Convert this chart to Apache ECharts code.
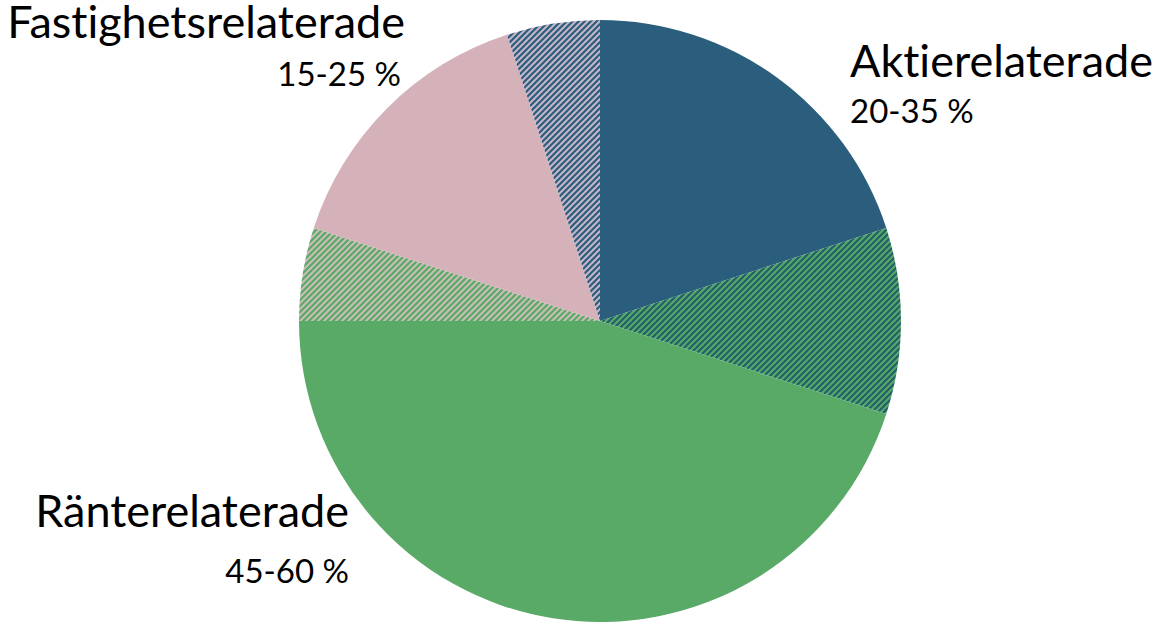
<!DOCTYPE html>
<html>
<head>
<meta charset="utf-8">
<script src="https://cdn.jsdelivr.net/npm/echarts@6/dist/echarts.min.js"></script>
<style>
	html, body { margin: 0; padding: 0; background: #fff; }
	#chart { width: 1153px; height: 625px; }
	#chart text { font-variant-ligatures: none; }
</style>
</head>
<body>
<div id="chart"></div>
<script>
	// data
	var sliceNames = ['Aktierelaterade', 'Aktier (spann)', 'Ränterelaterade', 'Ränte (spann)', 'Fastighetsrelaterade', 'Fastighet (spann)'];
	var sliceValues = [20, 10, 45, 5, 15, 5];
	var labelNames = ['Aktierelaterade', 'Fastighetsrelaterade', 'Ränterelaterade'];
	var labelRanges = ['20-35 %', '15-25 %', '45-60 %'];

	/**
	 * diagonal stripe tile
	 */
	var stripes = function(bg, fg){
		var s = 6, c = document.createElement('canvas');
		c.width = s; c.height = s;
		var ctx = c.getContext('2d');
		ctx.fillStyle = bg;
		ctx.fillRect(0, 0, s, s);
		ctx.strokeStyle = fg;
		ctx.lineWidth = 2.2;
		ctx.beginPath();
		ctx.moveTo(-1, s + 1); ctx.lineTo(s + 1, -1);
		ctx.moveTo(-1, 1); ctx.lineTo(1, -1);
		ctx.moveTo(s - 1, s + 1); ctx.lineTo(s + 1, s - 1);
		ctx.stroke();
		return { image: c, repeat: 'repeat' };
	};

	var fills = [
		'#2a5e7c',
		stripes('#5aaa67', '#22606c'),
		'#5aaa67',
		stripes('#cbbdb7', '#5aaa67'),
		'#d5b1ba',
		stripes('#c6b5c8', '#2a5e7c')
	];

	var pieData = [];
	for(var i = 0, j = sliceValues.length; i < j; i++){
		pieData.push({ name: sliceNames[i], value: sliceValues[i], itemStyle: { color: fills[i] } });
	}

	var font = 'Lato, "Open Sans", sans-serif';
	var bigStyle = { fontSize: 45, fontFamily: font, fill: '#000' };
	var smallStyle = { fontSize: 33, fontFamily: font, fill: '#000' };

	function ext(a, b){ for(var k in b){ a[k] = b[k]; } return a; }
	var txt = function(text, x, y, style, align){
		return {
			type: 'text', x: x, y: y,
			style: ext({ text: text, textAlign: align, textVerticalAlign: 'bottom' }, style)
		};
	};

	var myChart = echarts.init(document.getElementById('chart'), null, { renderer: 'svg' });
	myChart.setOption({
		animation: false,
		series: [{
			type: 'pie',
			center: [600, 321],
			radius: 301,
			startAngle: 90,
			clockwise: true,
			label: { show: false },
			labelLine: { show: false },
			emphasis: { disabled: true },
			itemStyle: { borderWidth: 0 },
			data: pieData
		}],
		graphic: [
			txt(labelNames[0], 850, 82, bigStyle, 'left'),
			txt(labelRanges[0], 850, 126, smallStyle, 'left'),
			txt(labelNames[1], 405, 43, bigStyle, 'right'),
			txt(labelRanges[1], 401, 89, smallStyle, 'right'),
			txt(labelNames[2], 349, 532, bigStyle, 'right'),
			txt(labelRanges[2], 349, 586, smallStyle, 'right')
		]
	});
</script>
</body>
</html>
